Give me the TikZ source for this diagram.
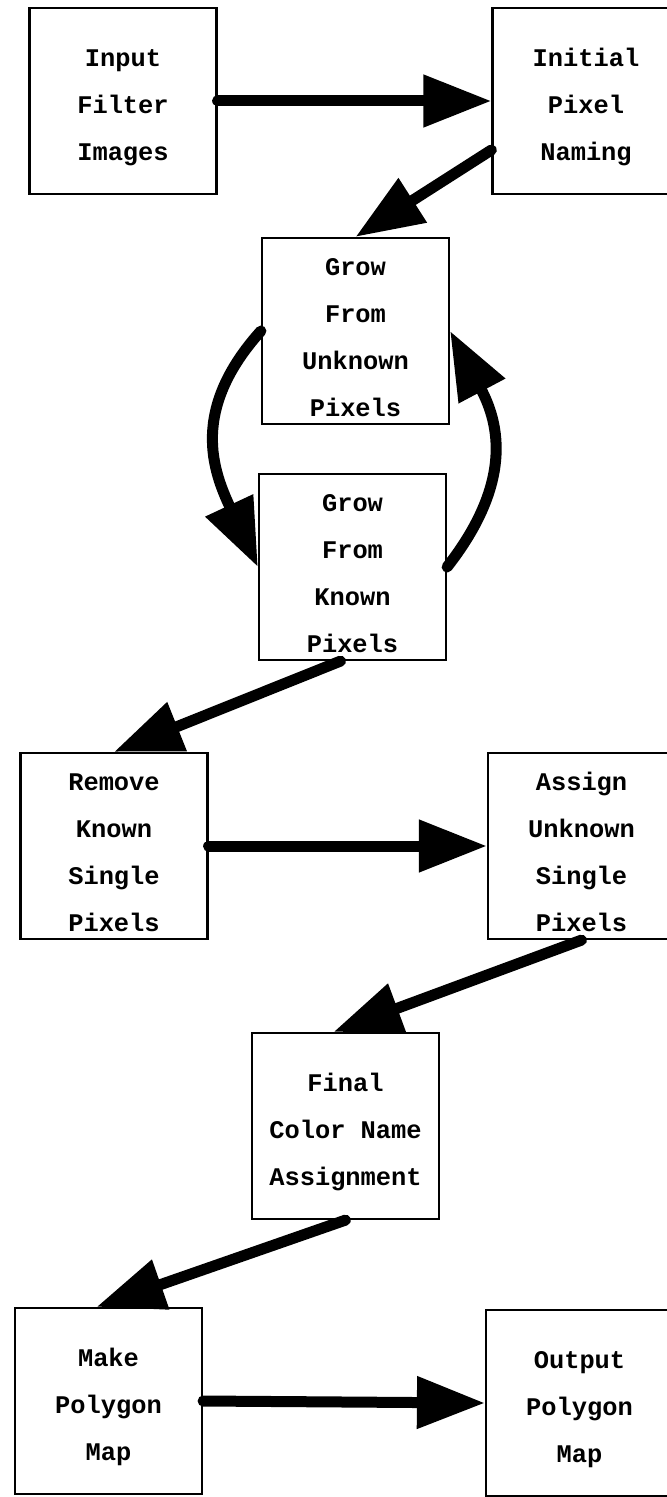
\documentclass[tikz,border=0pt]{standalone}
\usepackage{fontspec}
\setmonofont{Liberation Mono}
\usetikzlibrary{arrows.meta}
\newcommand{\topgap}{\rule{0pt}{15pt}}
\tikzset{
  procbox/.style={draw,line width=1.1pt,minimum width=93.5pt,minimum height=93pt,
    inner sep=0pt,align=center,font=\ttfamily\bfseries\fontsize{12.7}{23.5}\selectfont},
  bigarrow/.style={line width=5.5pt,line cap=round,-{Triangle[length=34pt,width=25pt]}}
}
\begin{document}
\begin{tikzpicture}[x=0.5pt,y=-0.5pt]
\useasboundingbox (0,0) rectangle (667,1497);
% boxes
\node[procbox] (input) at (123,101) {\topgap Input\\Filter\\Images};
\node[procbox] (init) at (586,101) {\topgap Initial\\Pixel\\Naming};
\node[procbox] (gu) at (355.5,331) {\topgap Grow\\From\\Unknown\\Pixels};
\node[procbox] (gk) at (352.5,567) {\topgap Grow\\From\\Known\\Pixels};
\node[procbox] (remove) at (114,846) {\topgap Remove\\Known\\Single\\Pixels};
\node[procbox] (assign) at (581.5,846) {\topgap Assign\\Unknown\\Single\\Pixels};
\node[procbox] (final) at (345.5,1126) {\topgap Final\\Color Name\\Assignment};
\node[procbox] (make) at (108.5,1401) {\topgap Make\\Polygon\\Map};
\node[procbox] (output) at (579.5,1403) {\topgap Output\\Polygon\\Map};
% arrows
\draw[bigarrow] (input.east) -- (init.west);
\draw[bigarrow] ([yshift=-24.5pt]init.west) -- (gu.north);
\draw[bigarrow] (gu.west) to[out=228,in=115,looseness=1.15] (gk.west);
\draw[bigarrow] (gk.east) to[out=52,in=-62,looseness=1.15] (gu.east);
\draw[bigarrow] ([xshift=-6pt]gk.south) -- (remove.north);
\draw[bigarrow] (remove.east) -- (assign.west);
\draw[bigarrow] (assign.south) -- ([xshift=-6pt]final.north);
\draw[bigarrow] (final.south) -- ([xshift=-6pt]make.north);
\draw[bigarrow] (make.east) -- (output.west);
\end{tikzpicture}
\end{document}
